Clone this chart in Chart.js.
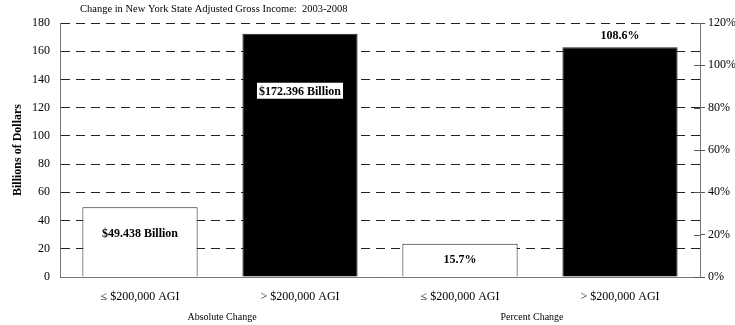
<!DOCTYPE html>
<html>
<head>
<meta charset="utf-8">
<script src="https://cdn.jsdelivr.net/npm/chart.js@4"></script>
<style>
    html, body { margin: 0; padding: 0; background: #fff; }
    #wrap { width: 735px; height: 325px; }
</style>
</head>
<body>
<div id="wrap"><canvas id="chart" width="735" height="325"></canvas></div>
<script>
// Chart data
const chartTitle = 'Change in New York State Adjusted Gross Income:  2003-2008';
const categories = ['≤ $200,000 AGI', '> $200,000 AGI', '≤ $200,000 AGI', '> $200,000 AGI'];
const groupLabels = ['Absolute Change', 'Percent Change'];
const absoluteChange = [49.438, 172.396, null, null]; // billions of dollars
const percentChange = [null, null, 15.7, 108.6];      // percent
const valueLabels = ['$49.438 Billion', '$172.396 Billion', '15.7%', '108.6%'];
const leftTicks = [0, 180, 20];
const rightTicks = [0, 120, 20];

const barColors = ['#ffffff', '#000000', '#ffffff', '#000000'];
const SERIF = '"Liberation Serif", "Times New Roman", serif';

// label placement relative to bar top (px), styling only
const labelOffsets = [26, 57, 15, -12];
const labelBoxed = [false, true, false, false];

const titlePlugin = {
    id: 'topTitle',
    afterDraw(chart) {
        const ctx = chart.ctx;
        ctx.save();
        ctx.font = '10.5px ' + SERIF;
        ctx.fillStyle = '#000';
        ctx.textAlign = 'left';
        ctx.textBaseline = 'middle';
        ctx.fillText(chartTitle, 80, 9);
        ctx.restore();
    }
};

const groupPlugin = {
    id: 'groupLabels',
    afterDraw(chart) {
        const ctx = chart.ctx;
        const x = chart.scales.x;
        ctx.save();
        ctx.font = '10px ' + SERIF;
        ctx.fillStyle = '#000';
        ctx.textAlign = 'center';
        ctx.textBaseline = 'middle';
        groupLabels.forEach((g, i) => {
            const cx = (x.getPixelForValue(i * 2) + x.getPixelForValue(i * 2 + 1)) / 2;
            ctx.fillText(g, cx + (i === 1 ? -8 : 2), 317);
        });
        ctx.restore();
    }
};

const rightTickPlugin = {
    id: 'rightInnerTicks',
    afterDatasetsDraw(chart) {
        const ctx = chart.ctx;
        const s = chart.scales.y1;
        const right = chart.chartArea.right;
        ctx.save();
        ctx.strokeStyle = '#555';
        ctx.lineWidth = 1;
        s.ticks.forEach(t => {
            const y = Math.round(s.getPixelForValue(t.value)) + 0.5;
            ctx.beginPath();
            ctx.moveTo(right - 6, y);
            ctx.lineTo(right, y);
            ctx.stroke();
        });
        ctx.restore();
    }
};

const valuePlugin = {
    id: 'valueLabels',
    afterDatasetsDraw(chart) {
        const ctx = chart.ctx;
        ctx.save();
        ctx.font = 'bold 12px ' + SERIF;
        ctx.textAlign = 'center';
        ctx.textBaseline = 'middle';
        chart.data.datasets.forEach((ds, di) => {
            const meta = chart.getDatasetMeta(di);
            meta.data.forEach((bar, i) => {
                if (ds.data[i] == null) return;
                const y = bar.y + labelOffsets[i];
                const text = valueLabels[i];
                if (labelBoxed[i]) {
                    const w = ctx.measureText(text).width + 4;
                    ctx.fillStyle = '#fff';
                    ctx.fillRect(bar.x - w / 2, y - 8, w, 16);
                }
                ctx.fillStyle = '#000';
                ctx.fillText(text, bar.x, y + 1);
            });
        });
        ctx.restore();
    }
};

new Chart(document.getElementById('chart'), {
    type: 'bar',
    data: {
        labels: categories,
        datasets: [
            {
                label: 'Absolute Change',
                data: absoluteChange,
                yAxisID: 'y',
                backgroundColor: barColors,
                borderColor: '#222',
                borderWidth: 1,
                grouped: false,
                barPercentage: 0.72,
                categoryPercentage: 1
            },
            {
                label: 'Percent Change',
                data: percentChange,
                yAxisID: 'y1',
                backgroundColor: barColors,
                borderColor: '#222',
                borderWidth: 1,
                grouped: false,
                barPercentage: 0.72,
                categoryPercentage: 1
            }
        ]
    },
    options: {
        responsive: false,
        animation: false,
        devicePixelRatio: 1,
        layout: { padding: { top: 23, left: 0, right: 0, bottom: 0 } },
        plugins: {
            legend: { display: false },
            tooltip: { enabled: false },
            title: { display: false }
        },
        scales: {
            x: {
                position: 'bottom',
                grid: { drawOnChartArea: false, drawTicks: false },
                border: { display: true, color: '#777', width: 1 },
                ticks: {
                    color: '#000',
                    padding: 13,
                    font: { family: SERIF, size: 12 },
                    maxRotation: 0
                },
                afterFit(scale) { scale.height = 48; }
            },
            y: {
                position: 'left',
                min: leftTicks[0],
                max: leftTicks[1],
                ticks: {
                    stepSize: leftTicks[2],
                    color: '#000',
                    padding: 10,
                    font: { family: SERIF, size: 12 }
                },
                grid: { color: '#222', lineWidth: 1, drawTicks: false },
                border: { display: true, color: '#777', width: 1, dash: [9, 6] },
                title: {
                    display: true,
                    text: 'Billions of Dollars',
                    color: '#000',
                    font: { family: SERIF, size: 12, weight: 'bold' },
                    padding: { top: 11, bottom: 0 }
                },
                afterFit(scale) { scale.width = 60; }
            },
            y1: {
                position: 'right',
                min: rightTicks[0],
                max: rightTicks[1],
                ticks: {
                    stepSize: rightTicks[2],
                    color: '#000',
                    padding: 3,
                    font: { family: SERIF, size: 12 },
                    callback: v => v + '%'
                },
                grid: { drawOnChartArea: false, drawTicks: true, tickLength: 5, tickColor: '#555' },
                border: { display: true, color: '#777', width: 1 },
                afterFit(scale) { scale.width = 35; }
            }
        }
    },
    plugins: [titlePlugin, groupPlugin, rightTickPlugin, valuePlugin]
});
</script>
</body>
</html>
